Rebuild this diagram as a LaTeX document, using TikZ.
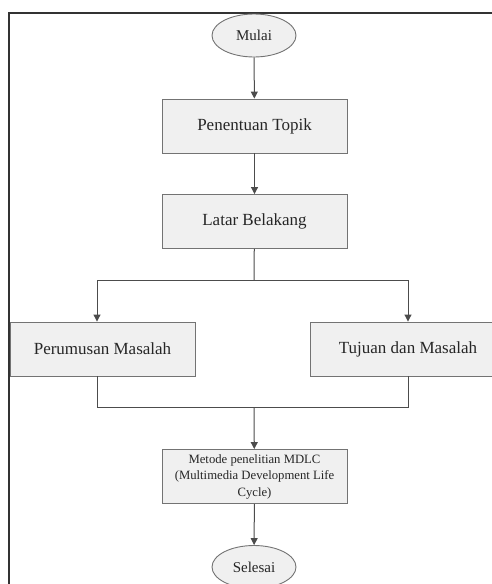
\documentclass[tikz,border=0pt]{standalone}
\usepackage{fontspec}
\setmainfont{Liberation Serif}
\usetikzlibrary{arrows.meta,shapes.geometric}

\begin{document}
\begin{tikzpicture}[x=1pt, y=-1pt,
        kotak/.style={rectangle, fill=gray!12, draw=gray!90!black, line width=0.9pt, minimum width=185pt, minimum height=54pt, inner sep=0pt, text=black!85, font=\fontsize{17}{20}\selectfont},
        oval/.style={ellipse, fill=gray!12, draw=gray!90!black, line width=0.9pt, minimum width=84pt, minimum height=43pt, inner sep=0pt, text=black!85, font=\fontsize{15}{18}\selectfont},
        garis/.style={draw=black!70, line width=1pt},
        panah/.style={garis, -{Triangle[length=7pt, width=7pt]}}]
            \useasboundingbox (0,0) rectangle (491,584);

            % Frame
            \draw[black!80, line width=1.6pt] (9,590) -- (9,13) -- (495,13);

            % Nodes
            \node[oval] (mulai) at (254,35.5) {Mulai};
            \node[kotak] (topik) at (254.5,126) {Penentuan Topik};
            \node[kotak] (latar) at (254.5,221.5) {Latar Belakang};
            \node[kotak] (rumusan) at (102.5,349) {Perumusan Masalah};
            \node[kotak, minimum width=196pt] (tujuan) at (408,349) {Tujuan dan Masalah};
            \node[kotak, align=center, font=\fontsize{12.7}{16.5}\selectfont] (metode) at (254.5,476.5)
                {Metode penelitian MDLC\\(Multimedia Development Life\\Cycle)};
            \node[oval] (selesai) at (254,567) {Selesai};

            % Split and join points
            \coordinate (pecah) at (254,280);
            \coordinate (kiri) at (97,280);
            \coordinate (kanan) at (408,280);
            \coordinate (gabung) at (254,407);

            % Edges
            \foreach \a/\b in {mulai/topik, topik/latar, metode/selesai} {
                \draw[panah] (\a) -- (\b);
            }
            \draw[garis] (latar) -- (pecah);
            \draw[garis] (kiri) -- (kanan);
            \draw[panah] (kiri) -- (kiri |- rumusan.north);
            \draw[panah] (kanan) -- (tujuan);
            \draw[garis] (rumusan.south -| kiri) |- (gabung);
            \draw[garis] (tujuan) |- (gabung);
            \draw[panah] (gabung) -- (metode);
        \end{tikzpicture}
\end{document}
